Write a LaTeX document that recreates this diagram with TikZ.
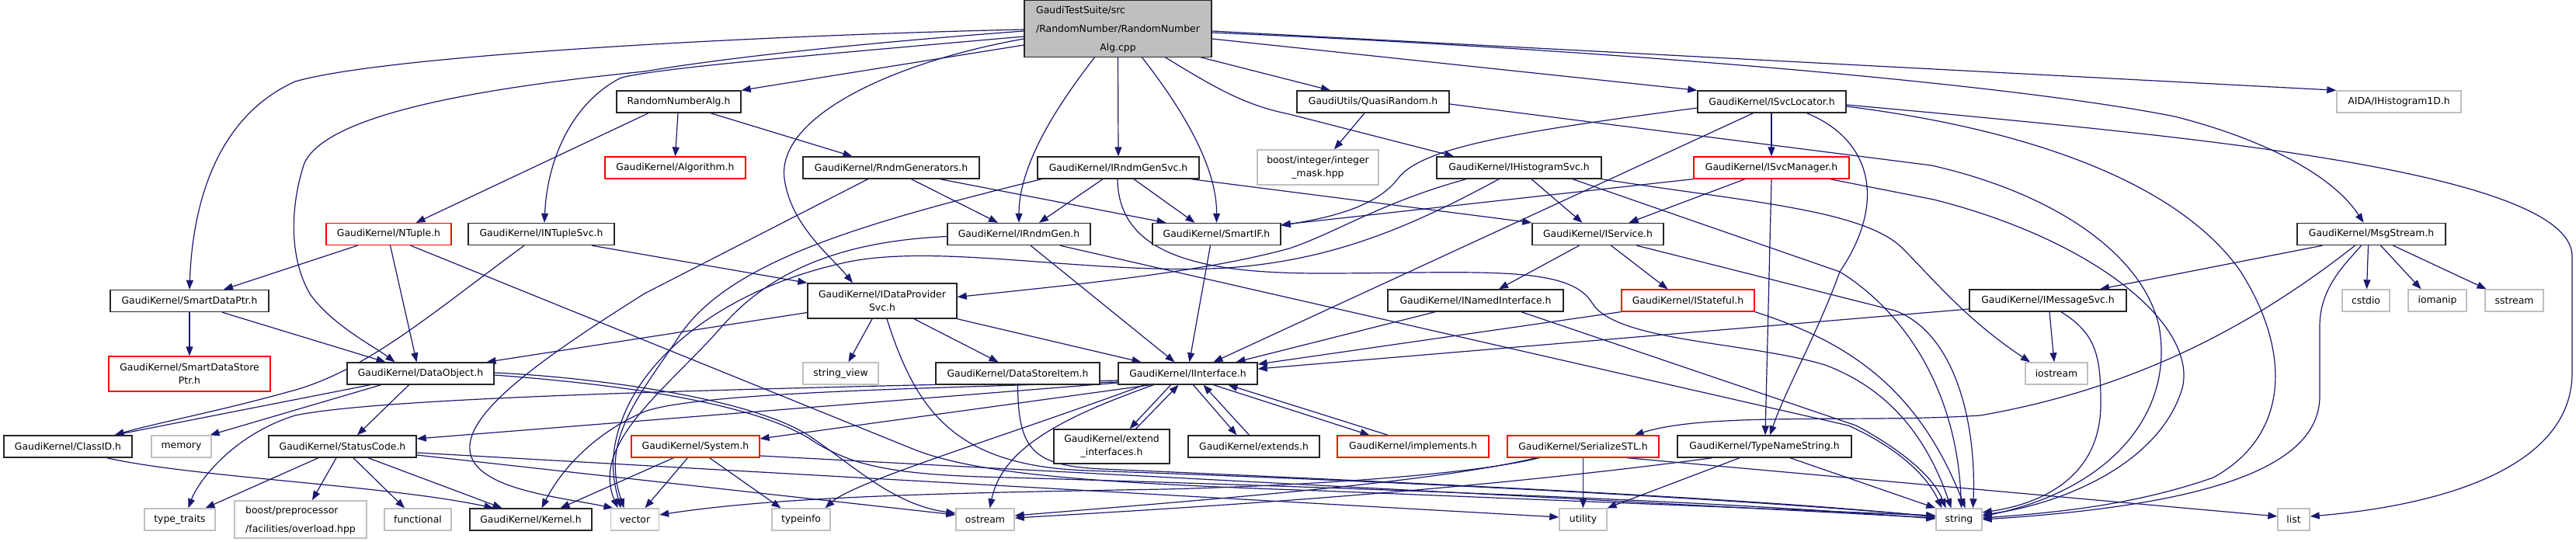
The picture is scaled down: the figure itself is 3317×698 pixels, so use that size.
\documentclass[tikz,border=0pt]{standalone}
\usepackage{fontspec}
\setmainfont{DejaVu Sans}
\usetikzlibrary{arrows.meta,backgrounds}
\definecolor{edgec}{HTML}{191970}
\definecolor{extc}{HTML}{BFBFBF}
\definecolor{truncc}{HTML}{FF0000}
\definecolor{topfill}{HTML}{BFBFBF}
\tikzset{
 nb/.style={draw=black!85, line width=1.4pt, fill=white, minimum height=28pt, inner sep=0pt, font=\fontsize{12.4}{17}\selectfont},
 gn/.style={nb, draw=extc},
 rn/.style={nb, draw=truncc, line width=1.2pt},
 edg/.style={draw=edgec, line width=1.2pt, -{Triangle[length=12pt,width=9pt]}},
}
\begin{document}
\begin{tikzpicture}[x=1pt,y=-1pt]
\useasboundingbox (0,0) rectangle (3317,698);
% nodes
\node[nb,fill=topfill,minimum width=241pt,minimum height=62pt] (top) at (1439.5,37) {{\def\arraystretch{1.42}\begin{tabular}{@{}l@{}}GaudiTestSuite/src\\/RandomNumber/RandomNumber\\\multicolumn{1}{@{}c@{}}{Alg.cpp}\end{tabular}}};
\node[nb,minimum width=160pt] (rna) at (874,131) {RandomNumberAlg.h};
\node[rn,minimum width=181pt] (alg) at (869.5,216) {GaudiKernel/Algorithm.h};
\node[nb,minimum width=227pt] (rndmgens) at (1147.5,216) {GaudiKernel/RndmGenerators.h};
\node[nb,minimum width=208pt] (irndmgensvc) at (1440,216) {GaudiKernel/IRndmGenSvc.h};
\node[gn,minimum width=156pt,minimum height=45pt,align=center] (boostint) at (1697,215.5) {boost/integer/integer\\\_mask.hpp};
\node[nb,minimum width=184pt] (irndmgen) at (1312,301.5) {GaudiKernel/IRndmGen.h};
\node[nb,minimum width=165pt] (smartif) at (1566.5,301.5) {GaudiKernel/SmartIF.h};
\node[nb,minimum width=196pt] (quasi) at (1768,131) {GaudiUtils/QuasiRandom.h};
\node[nb,minimum width=212pt] (ihistsvc) at (1956,216) {GaudiKernel/IHistogramSvc.h};
\node[nb,minimum width=191pt] (isvcloc) at (2281.5,131) {GaudiKernel/ISvcLocator.h};
\node[rn,minimum width=200pt] (isvcmgr) at (2281,216) {GaudiKernel/ISvcManager.h};
\node[nb,minimum width=169pt] (iservice) at (2057.5,301.5) {GaudiKernel/IService.h};
\node[gn,minimum width=160pt] (aida) at (3089,131) {AIDA/IHistogram1D.h};
\node[nb,minimum width=191pt] (msgstream) at (3053.5,301.5) {GaudiKernel/MsgStream.h};
\node[rn,minimum width=161pt] (ntuple) at (500.5,301.5) {GaudiKernel/NTuple.h};
\node[nb,minimum width=188pt] (intuplesvc) at (697,301.5) {GaudiKernel/INTupleSvc.h};
\node[nb,minimum width=204pt] (smartdataptr) at (244,387.5) {GaudiKernel/SmartDataPtr.h};
\node[rn,minimum width=208pt,minimum height=45pt,align=center] (sdsp) at (244,481.5) {GaudiKernel/SmartDataStore\\Ptr.h};
\node[nb,minimum width=189pt] (dataobject) at (541.5,481) {GaudiKernel/DataObject.h};
\node[nb,minimum width=165pt] (classid) at (87.5,575) {GaudiKernel/ClassID.h};
\node[gn,minimum width=77pt] (memory) at (233.5,575) {memory};
\node[nb,minimum width=190pt] (statuscode) at (441,575) {GaudiKernel/StatusCode.h};
\node[rn,minimum width=165pt] (system) at (895.5,575) {GaudiKernel/System.h};
\node[gn,minimum width=91pt] (typetraits) at (231.5,669) {type\_traits};
\node[gn,minimum width=170pt,minimum height=44pt] (boostpp) at (387,669) {{\def\arraystretch{1.42}\begin{tabular}{@{}l@{}}boost/preprocessor\\/facilities/overload.hpp\end{tabular}}};
\node[gn,minimum width=86pt] (functional) at (538,669) {functional};
\node[nb,minimum width=157pt] (kernel) at (683.5,669) {GaudiKernel/Kernel.h};
\node[gn,minimum width=62pt] (vector) at (817.5,669) {vector};
\node[nb,minimum width=192pt,minimum height=45pt,align=center] (idps) at (1136,387.5) {GaudiKernel/IDataProvider\\Svc.h};
\node[gn,minimum width=97pt] (stringview) at (1082.5,481) {string\_view};
\node[nb,minimum width=211pt] (datastoreitem) at (1310.5,481) {GaudiKernel/DataStoreItem.h};
\node[nb,minimum width=179pt] (iinterface) at (1529.5,481) {GaudiKernel/IInterface.h};
\node[nb,minimum width=149pt,minimum height=44pt,align=center] (extendif) at (1431.5,575) {GaudiKernel/extend\\\_interfaces.h};
\node[nb,minimum width=169pt] (extends) at (1614.5,575) {GaudiKernel/extends.h};
\node[gn,minimum width=75pt] (typeinfo) at (1031.5,669) {typeinfo};
\node[gn,minimum width=75pt] (ostream) at (1268.5,669) {ostream};
\node[nb,minimum width=226pt] (inamed) at (1900,387) {GaudiKernel/INamedInterface.h};
\node[rn,minimum width=171pt] (istateful) at (2173.5,387) {GaudiKernel/IStateful.h};
\node[rn,minimum width=195pt] (implements) at (1819.5,575) {GaudiKernel/implements.h};
\node[rn,minimum width=195pt] (serialize) at (2038.5,575) {GaudiKernel/SerializeSTL.h};
\node[nb,minimum width=224pt] (typename) at (2272,575) {GaudiKernel/TypeNameString.h};
\node[gn,minimum width=61pt] (utility) at (2038.5,669) {utility};
\node[nb,minimum width=202pt] (imessagesvc) at (2637,387) {GaudiKernel/IMessageSvc.h};
\node[gn,minimum width=80pt] (iostream) at (2648,481) {iostream};
\node[gn,minimum width=61pt] (cstdio) at (3046.5,387) {cstdio};
\node[gn,minimum width=75pt] (iomanip) at (3138.5,387) {iomanip};
\node[gn,minimum width=75pt] (sstream) at (3237.5,387) {sstream};
\node[gn,minimum width=59pt] (string) at (2522.5,669) {string};
\node[gn,minimum width=41pt] (list) at (2953.5,669) {list};
\begin{scope}[on background layer]
\fill[white] (0,0) rectangle (3317,698);
% top node
\draw[edg] ([yshift=-21pt]top.west) -- (rna.north east);
\draw[edg] ([yshift=-1pt]top.west) .. controls (1000,45) and (500,70) .. (380,105) .. controls (280,150) and (248,260) .. (smartdataptr.north);
\draw[edg] ([yshift=-3pt]top.west) .. controls (1050,60) and (900,80) .. (830,92) .. controls (600,115) and (420,150) .. (392,210) .. controls (375,260) and (370,330) .. (400,380) .. controls (430,420) and (480,445) .. ([xshift=-33pt]dataobject.north);
\draw[edg] ([yshift=-10pt]top.west) .. controls (1000,75) and (850,88) .. (800,100) .. controls (740,130) and (705,200) .. ([xshift=4pt]intuplesvc.north);
\draw[edg] ([yshift=-13pt]top.west) .. controls (1150,80) and (1000,150) .. (1010,230) .. controls (1018,290) and (1070,330) .. ([xshift=-38pt]idps.north);
\draw[edg] ([xshift=-30pt]top.south) .. controls (1350,150) and (1312,220) .. (irndmgen.north);
\draw[edg] (top.south) -- (irndmgensvc.north);
\draw[edg] ([xshift=31pt]top.south) .. controls (1530,150) and (1567,220) .. (smartif.north);
\draw[edg] ([xshift=107pt]top.south) -- ([xshift=-55pt]quasi.north);
\draw[edg] ([xshift=61pt]top.south) .. controls (1560,110) and (1600,135) .. (1660,147) -- ([xshift=-84pt]ihistsvc.north);
\draw[edg] ([yshift=-13pt]top.east) -- (isvcloc.north west);
\draw[edg] ([yshift=-3pt]top.east) -- (aida.north west);
\draw[edg] ([yshift=-5pt]top.east) .. controls (2100,65) and (2600,110) .. (2800,150) .. controls (2900,175) and (3000,220) .. ([xshift=-10pt]msgstream.north);
% RandomNumberAlg.h
\draw[edg] ([xshift=-39pt]rna.south) -- ([xshift=35pt]ntuple.north);
\draw[edg] ([xshift=-1pt]rna.south) -- (alg.north);
\draw[edg] ([xshift=41pt]rna.south) -- ([xshift=-50pt]rndmgens.north);
% NTuple
\draw[edg] ([xshift=-40pt]ntuple.south) -- ([xshift=44pt]smartdataptr.north);
\draw[edg] ([xshift=2pt]ntuple.south) -- ([xshift=-5pt]dataobject.north);
\draw[edg] ([xshift=28pt]ntuple.south) -- (1180,580) .. controls (1260,610) and (1400,622) .. (1700,632) -- ([yshift=5pt]string.west);
% INTupleSvc
\draw[edg] ([xshift=-22pt]intuplesvc.south) .. controls (560,400) and (470,480) .. (370,505) .. controls (280,530) and (200,545) .. ([xshift=60pt]classid.north);
\draw[edg] ([xshift=65pt]intuplesvc.south) -- (idps.north west);
% RndmGenerators
\draw[edg] ([xshift=26pt]rndmgens.south) -- ([xshift=-27pt]irndmgen.north);
\draw[edg] ([xshift=63pt]rndmgens.south) -- ([xshift=-65pt]smartif.north);
\draw[edg] ([xshift=-30pt]rndmgens.south) -- (830,378) .. controls (700,460) and (600,530) .. (605,580) .. controls (610,630) and (720,640) .. ([xshift=-28pt]vector.north);
% IRndmGenSvc
\draw[edg] ([xshift=-20pt]irndmgensvc.south) -- ([xshift=26pt]irndmgen.north);
\draw[edg] ([xshift=20pt]irndmgensvc.south) -- ([xshift=-28pt]smartif.north);
\draw[edg] ([xshift=-99pt]irndmgensvc.south) .. controls (1100,290) and (930,340) .. (870,440) .. controls (815,520) and (775,570) .. ([xshift=-14pt]vector.north);
\draw[edg] ([xshift=-1pt]irndmgensvc.south) .. controls (1440,330) and (1550,352) .. (1700,352) .. controls (1900,352) and (2020,340) .. (2050,390) .. controls (2080,440) and (2250,440) .. (2350,470) .. controls (2430,500) and (2480,560) .. ([xshift=-10pt]string.north);
\draw[edg] ([xshift=94pt]irndmgensvc.south) -- (iservice.north west);
% IRndmGen
\draw[edg] ([xshift=15pt]irndmgen.south) -- ([xshift=-17pt]iinterface.north);
\draw[edg] ([xshift=53pt]irndmgen.south) -- (2380,548) .. controls (2440,575) and (2480,610) .. ([xshift=-22pt]string.north);
\draw[edg] ([yshift=-3pt]irndmgen.west) .. controls (1100,310) and (1000,340) .. (930,420) .. controls (860,500) and (760,570) .. ([xshift=-22pt]vector.north);
% SmartIF
\draw[edg] ([xshift=-8pt]smartif.south) -- ([xshift=2pt]iinterface.north);
% IDataProviderSvc
\draw[edg] ([xshift=-13pt]idps.south) -- ([xshift=10pt]stringview.north);
\draw[edg] ([xshift=41pt]idps.south) -- ([xshift=-25pt]datastoreitem.north);
\draw[edg] (idps.south east) -- ([xshift=-60pt]iinterface.north);
\draw[edg] ([yshift=-15pt]idps.west) -- ([xshift=85pt]dataobject.north);
\draw[edg] ([xshift=6pt]idps.south) .. controls (1180,530) and (1230,600) .. (1400,606) .. controls (1800,620) and (2200,640) .. ([yshift=4pt]string.west);
% DataStoreItem
\draw[edg] (datastoreitem.south) .. controls (1311,580) and (1330,600) .. (1420,604) .. controls (1900,625) and (2300,645) .. ([yshift=3pt]string.west);
% IInterface
\draw[edg] ([xshift=-48pt]iinterface.south) -- ([yshift=10pt]system.east);
\draw[edg] ([yshift=-12pt]iinterface.west) -- ([yshift=10pt]statuscode.east);
\draw[edg] ([yshift=-9pt]iinterface.west) .. controls (1000,500) and (500,510) .. (380,535) .. controls (300,560) and (255,620) .. ([xshift=11pt]typetraits.north);
\draw[edg] ([xshift=-56pt]iinterface.south) .. controls (1300,560) and (1100,620) .. ([xshift=31pt]typeinfo.north);
\draw[edg] ([xshift=-44pt]iinterface.south) .. controls (1360,540) and (1290,580) .. ([xshift=6pt]ostream.north);
\draw[edg] ([xshift=-22pt]iinterface.south) -- ([xshift=23pt]extendif.north);
\draw[edg] ([xshift=31pt]extendif.north) -- ([xshift=-12pt]iinterface.south);
\draw[edg] ([xshift=7pt]iinterface.south) -- ([xshift=-22pt]extends.north);
\draw[edg] ([xshift=-6pt]extends.north) -- ([xshift=20pt]iinterface.south);
\draw[edg] ([xshift=33pt]iinterface.south) -- ([xshift=-56pt]implements.north);
\draw[edg] ([xshift=-32pt]implements.north) -- ([xshift=52pt]iinterface.south);
\draw[edg] ([yshift=-11pt]iinterface.west) .. controls (1200,500) and (900,505) .. (830,530) .. controls (760,560) and (720,610) .. ([xshift=14pt]kernel.north);
% System
\draw[edg] ([xshift=-28pt]system.south) -- ([xshift=38pt]kernel.north);
\draw[edg] ([xshift=-10pt]system.south) -- ([xshift=13pt]vector.north);
\draw[edg] ([xshift=18pt]system.south) -- ([xshift=-26pt]typeinfo.north);
\draw[edg] ([yshift=-12pt]system.east) -- ([yshift=2pt]string.west);
% StatusCode
\draw[edg] ([xshift=-31pt]statuscode.south) -- ([xshift=33pt]typetraits.north);
\draw[edg] ([xshift=-8pt]statuscode.south) -- ([xshift=15pt]boostpp.north);
\draw[edg] ([xshift=14pt]statuscode.south) -- ([xshift=-17pt]functional.north);
\draw[edg] ([xshift=33pt]statuscode.south) -- ([xshift=-37pt]kernel.north);
\draw[edg] ([yshift=-8pt]statuscode.east) -- ([yshift=3pt]utility.west);
\draw[edg] ([yshift=-11pt]statuscode.east) -- ([yshift=6pt]ostream.west);
% ClassID
\draw[edg] ([xshift=50pt]classid.south) .. controls (250,615) and (500,625) .. ([xshift=-48pt]kernel.north);
% DataObject
\draw[edg] ([xshift=-65pt]dataobject.south) -- ([xshift=60pt]classid.north);
\draw[edg] ([xshift=-51pt]dataobject.south) -- ([xshift=37pt]memory.north);
\draw[edg] ([xshift=-15pt]dataobject.south) -- ([xshift=19pt]statuscode.north);
\draw[edg] ([yshift=1pt]dataobject.east) .. controls (750,485) and (960,510) .. (1040,560) .. controls (1100,600) and (1150,650) .. ([yshift=8pt]ostream.west);
\draw[edg] ([yshift=-2pt]dataobject.east) .. controls (800,495) and (980,520) .. (1050,570) .. controls (1100,600) and (1150,612) .. (1300,615) .. controls (1800,630) and (2200,645) .. ([yshift=1pt]string.west);
% SmartDataPtr
\draw[edg] (smartdataptr.south) -- (sdsp.north);
\draw[edg] ([xshift=42pt]smartdataptr.south) -- ([xshift=-45pt]dataobject.north);
% IService
\draw[edg] ([xshift=-24pt]iservice.south) -- ([xshift=30pt]inamed.north);
\draw[edg] ([xshift=17pt]iservice.south) -- ([xshift=-26pt]istateful.north);
\draw[edg] ([xshift=50pt]iservice.south) -- (2440,400) .. controls (2520,430) and (2545,550) .. ([xshift=18pt]string.north);
% INamedInterface
\draw[edg] ([xshift=-52pt]inamed.south) -- ([xshift=62pt]iinterface.north);
\draw[edg] ([xshift=59pt]inamed.south) -- (2390,548) .. controls (2450,580) and (2490,615) .. ([xshift=-17pt]string.north);
% IStateful
\draw[edg] (istateful.south west) -- ([yshift=12pt]iinterface.east);
\draw[edg] (istateful.south east) .. controls (2380,440) and (2470,500) .. ([xshift=8pt]string.north);
% ISvcManager
\draw[edg] ([xshift=-34pt]isvcmgr.south) -- ([xshift=40pt]iservice.north);
\draw[edg] (isvcmgr.south west) -- ([yshift=12pt]smartif.east);
\draw[edg] (isvcmgr.south) -- ([xshift=1pt]typename.north);
\draw[edg] ([xshift=75pt]isvcmgr.south) -- (2490,257) .. controls (2700,310) and (2830,420) .. (2810,500) .. controls (2780,600) and (2650,650) .. ([yshift=6pt]string.east);
% ISvcLocator
\draw[edg] ([yshift=-8pt]isvcloc.west) .. controls (1950,170) and (1830,190) .. (1800,230) .. controls (1770,270) and (1700,282) .. ([yshift=11pt]smartif.east);
\draw[edg] ([xshift=-24pt]isvcloc.south) -- ([xshift=33pt]iinterface.north);
\draw[edg] ([xshift=-0.5pt]isvcloc.south) -- (isvcmgr.north);
\draw[edg] ([xshift=45pt]isvcloc.south) .. controls (2410,180) and (2430,260) .. (2369,350) .. controls (2340,430) and (2300,500) .. ([xshift=7pt]typename.north);
\draw[edg] ([yshift=-4pt]isvcloc.east) -- (2487,145) .. controls (2800,175) and (3312,220) .. (3312,330) -- (3312,480) .. controls (3312,600) and (3150,650) .. ([yshift=4pt]list.east);
\draw[edg] ([yshift=-6pt]isvcloc.east) .. controls (2600,165) and (2800,230) .. (2884,348) .. controls (2950,450) and (2950,560) .. (2850,615) .. controls (2750,650) and (2650,660) .. ([yshift=2pt]string.east);
% QuasiRandom
\draw[edg] ([xshift=-11pt]quasi.south) -- ([xshift=21pt]boostint.north);
\draw[edg] ([yshift=-3pt]quasi.east) -- (2487,213) .. controls (2650,250) and (2760,330) .. (2780,420) .. controls (2800,530) and (2720,630) .. ([yshift=4pt]string.east);
% IHistogramSvc
\draw[edg] ([xshift=-68pt]ihistsvc.south) .. controls (1780,260) and (1720,300) .. (1660,320) .. controls (1550,350) and (1400,365) .. ([yshift=5pt]idps.east);
\draw[edg] ([xshift=16pt]ihistsvc.south) -- ([xshift=-20pt]iservice.north);
\draw[edg] ([xshift=69pt]ihistsvc.south) -- (2369,350) .. controls (2450,400) and (2520,500) .. ([xshift=3pt]string.north);
\draw[edg] (ihistsvc.south east) .. controls (2250,260) and (2400,270) .. (2450,320) .. controls (2490,360) and (2530,410) .. ([xshift=-34pt]iostream.north);
\draw[edg] ([xshift=-26pt]ihistsvc.south) .. controls (1820,290) and (1720,335) .. (1580,345) .. controls (1400,355) and (1200,310) .. (1080,340) .. controls (950,370) and (850,440) .. (810,520) .. controls (780,580) and (790,620) .. ([xshift=-18pt]vector.north);
% SerializeSTL
\draw[edg] ([xshift=-56pt]serialize.south) .. controls (1900,610) and (1700,625) .. (1500,630) .. controls (1200,635) and (1000,640) .. ([yshift=6pt]vector.east);
\draw[edg] ([xshift=-60pt]serialize.south) .. controls (1850,620) and (1600,640) .. ([yshift=5pt]ostream.east);
\draw[edg] (serialize.south) -- (utility.north);
\draw[edg] ([xshift=56pt]serialize.south) -- ([yshift=4pt]list.west);
% TypeNameString
\draw[edg] ([xshift=-32pt]typename.south) -- ([xshift=31pt]utility.north);
\draw[edg] ([xshift=33pt]typename.south) -- (string.north west);
\draw[edg] ([xshift=-67pt]typename.south) .. controls (1900,630) and (1600,650) .. ([yshift=2pt]ostream.east);
% IMessageSvc
\draw[edg] ([yshift=-11pt]imessagesvc.west) -- ([yshift=6pt]iinterface.east);
\draw[edg] ([xshift=2pt]imessagesvc.south) -- ([xshift=-3pt]iostream.north);
\draw[edg] ([xshift=17pt]imessagesvc.south) .. controls (2700,430) and (2705,460) .. (2705,520) .. controls (2705,620) and (2620,650) .. ([yshift=9pt]string.east);
% MsgStream
\draw[edg] ([xshift=-63pt]msgstream.south) -- ([xshift=67pt]imessagesvc.north);
\draw[edg] ([xshift=-21pt]msgstream.south) .. controls (2900,420) and (2750,500) .. (2550,535) .. controls (2400,545) and (2200,530) .. ([xshift=66pt]serialize.north);
\draw[edg] ([xshift=-13pt]msgstream.south) .. controls (3020,340) and (2987,370) .. (2987,420) -- (2987,510) .. controls (2987,600) and (2850,650) .. (string.east);
\draw[edg] ([xshift=-4pt]msgstream.south) -- ([xshift=1pt]cstdio.north);
\draw[edg] ([xshift=12pt]msgstream.south) -- ([xshift=-21pt]iomanip.north);
\draw[edg] ([xshift=28pt]msgstream.south) -- ([xshift=-36pt]sstream.north);
\end{scope}
\end{tikzpicture}
\end{document}
